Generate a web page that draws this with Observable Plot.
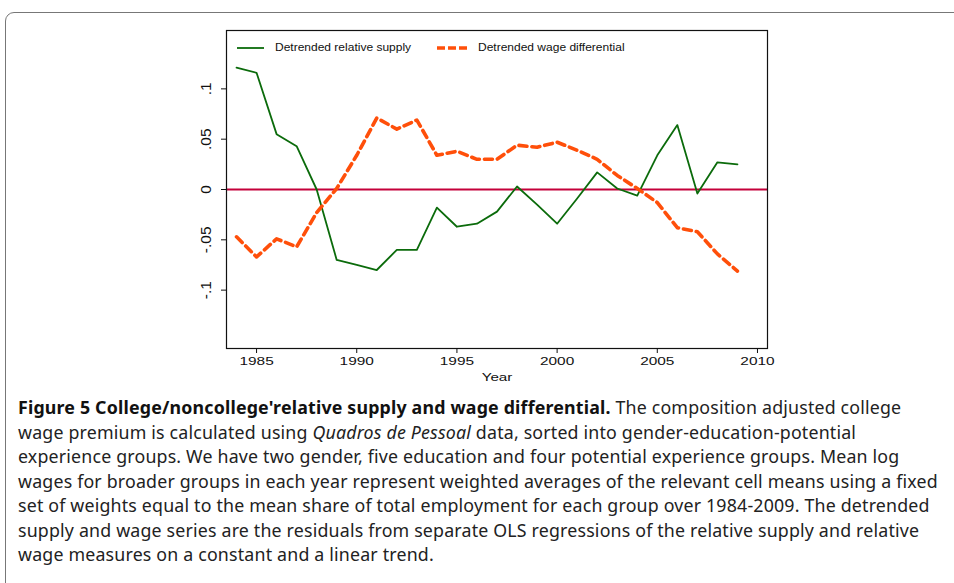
<!DOCTYPE html>
<html>
<head>
<meta charset="utf-8">
<script src="https://cdn.jsdelivr.net/npm/d3@7"></script>
<script src="https://cdn.jsdelivr.net/npm/@observablehq/plot@0.6"></script>
<style>
  html, body { margin: 0; padding: 0; background: #fff; width: 954px; height: 583px; overflow: hidden; }
  #wrap { position: relative; width: 954px; height: 583px; }
  #border { position: absolute; left: 5px; top: 12px; width: 1000px; height: 620px; border: 1.3px solid #777; border-radius: 9px; box-sizing: border-box; }
  #chart { position: absolute; left: 0; top: 0; }
  #legend { position: absolute; top: 41px; left: 0; font-family: "Liberation Sans", Arial, sans-serif; font-size: 12px; color: #111; }
  #legend .item { position: absolute; white-space: nowrap; display: flex; align-items: center; }
  #legend .item span { display: inline-block; transform: scaleY(0.85); transform-origin: center; }
  #caption { position: absolute; left: 18px; top: 395px; font-family: "Noto Sans", "Open Sans", sans-serif; font-size: 17.8px; line-height: 24.5px; color: #222; white-space: nowrap; letter-spacing: 0.18px; }
  #caption b { color: #111; }
</style>
</head>
<body>
<div id="wrap">
  <div id="border"></div>
  <div id="chart"></div>
  <div id="legend"></div>
  <div id="caption"></div>
</div>
<script>
const years = [1984,1985,1986,1987,1988,1989,1990,1991,1992,1993,1994,1995,1996,1997,1998,1999,2000,2001,2002,2003,2004,2005,2006,2007,2008,2009];
const supply = [0.121,0.116,0.055,0.043,0.000,-0.070,-0.075,-0.080,-0.060,-0.060,-0.018,-0.037,-0.034,-0.022,0.003,-0.015,-0.034,-0.009,0.017,0.001,-0.006,0.034,0.064,-0.004,0.027,0.025];
const wage = [-0.047,-0.067,-0.049,-0.057,-0.023,0.001,0.034,0.071,0.060,0.069,0.034,0.038,0.030,0.030,0.044,0.042,0.047,0.039,0.030,0.014,0.001,-0.013,-0.038,-0.042,-0.064,-0.081];
const xTicks = [1985,1990,1995,2000,2005,2010];
const yTicks = [0.1,0.05,0,-0.05,-0.1];
const yTickLabels = [".1",".05","0","-.05","-.1"];
const seriesNames = ["Detrended relative supply","Detrended wage differential"];

const green = "#0b6b0b";
const orange = "#ff4f0a";
const zeroColor = "#c4003a";

const supplyData = years.map((y,i)=>({year:y, value:supply[i]}));
const wageData = years.map((y,i)=>({year:y, value:wage[i]}));
const yTickData = yTicks.map((v,i)=>({v, label:yTickLabels[i]}));

const font = "'Liberation Sans', Arial, sans-serif";

const chart = Plot.plot({
  width: 954,
  height: 390,
  marginLeft: 226,
  marginRight: 187,
  marginTop: 30,
  marginBottom: 42,
  style: { fontFamily: font, fontSize: "11px", color: "#111", background: "transparent" },
  x: { domain: [1983.5, 2010.5] },
  y: { domain: [-0.158, 0.158] },
  marks: [
    Plot.ruleY([0], { stroke: zeroColor, strokeWidth: 2.2 }),
    Plot.line(supplyData, { x: "year", y: "value", stroke: green, strokeWidth: 1.8 }),
    Plot.line(wageData, { x: "year", y: "value", stroke: orange, strokeWidth: 3.6, strokeDasharray: "8,5" }),
    Plot.axisX({ ticks: xTicks, tickFormat: d => String(d), tickSize: 5, tickPadding: 4, label: "Year", labelAnchor: "center", labelArrow: "none", labelOffset: 32, fontSize: 11 }),
    Plot.axisY({ ticks: yTicks, tickSize: 5, tickFormat: () => "", label: null }),
    Plot.text(yTickData, { y: "v", text: "label", frameAnchor: "left", dx: -20, rotate: -90, textAnchor: "middle", fontSize: 15.5 }),
    Plot.frame({ stroke: "#111", strokeWidth: 1.2 })
  ]
});
document.getElementById("chart").appendChild(chart);

// widen horizontal axis text to match the reference's horizontally stretched glyphs
const svg = d3.select(chart);
svg.selectAll('g[aria-label="x-axis tick label"] text').each(function() {
  const w = this.getComputedTextLength();
  d3.select(this).attr("textLength", w * 1.4).attr("lengthAdjust", "spacingAndGlyphs");
});
svg.selectAll('g[aria-label="x-axis label"] text').each(function() {
  const w = this.getComputedTextLength();
  d3.select(this).attr("textLength", w * 1.38).attr("lengthAdjust", "spacingAndGlyphs");
});

// legend
const legend = document.getElementById("legend");
const items = [
  { name: seriesNames[0], left: 237, sw: '<svg width="27" height="6"><line x1="0" y1="3" x2="27" y2="3" stroke="' + green + '" stroke-width="1.8"/></svg>' },
  { name: seriesNames[1], left: 437, sw: '<svg width="30" height="6"><line x1="0" y1="3" x2="30" y2="3" stroke="' + orange + '" stroke-width="3.6" stroke-dasharray="8,3"/></svg>' }
];
items.forEach(it => {
  const d = document.createElement("div");
  d.className = "item";
  d.style.left = it.left + "px";
  d.innerHTML = it.sw + '<span style="margin-left:11px">' + it.name + '</span>';
  legend.appendChild(d);
});

// caption
const captionLines = [
  "<b>Figure 5 College/noncollege'relative supply and wage differential.</b> The composition adjusted college",
  "wage premium is calculated using <i>Quadros de Pessoal</i> data, sorted into gender-education-potential",
  "experience groups. We have two gender, five education and four potential experience groups. Mean log",
  "wages for broader groups in each year represent weighted averages of the relevant cell means using a fixed",
  "set of weights equal to the mean share of total employment for each group over 1984-2009. The detrended",
  "supply and wage series are the residuals from separate OLS regressions of the relative supply and relative",
  "wage measures on a constant and a linear trend."
];
document.getElementById("caption").innerHTML = captionLines.join("<br>");
</script>
</body>
</html>
